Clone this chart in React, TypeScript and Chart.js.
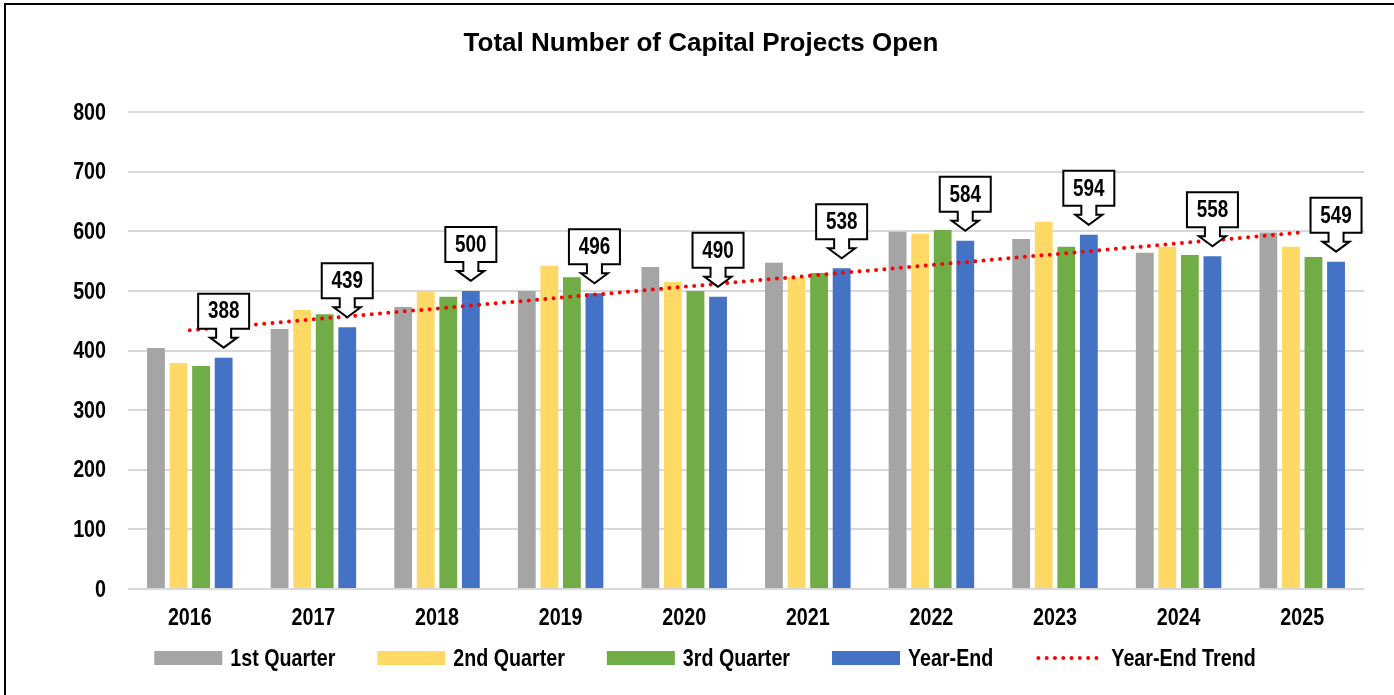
import React, { useEffect, useRef } from "react";
import { Chart, registerables } from "chart.js";

Chart.register(...registerables);

const years = ["2016", "2017", "2018", "2019", "2020", "2021", "2022", "2023", "2024", "2025"];
const firstQuarter = [404, 436, 473, 500, 540, 547, 599, 587, 564, 598];
const secondQuarter = [379, 468, 500, 542, 515, 523, 596, 616, 574, 574];
const thirdQuarter = [374, 461, 490, 523, 500, 530, 602, 574, 560, 557];
const yearEnd = [388, 439, 500, 496, 490, 538, 584, 594, 558, 549];
// Trend line end points (first and last year)
const yearEndTrend: (number | null)[] = [434, null, null, null, null, null, null, null, null, 598];
const seriesLabels = ["1st Quarter", "2nd Quarter", "3rd Quarter", "Year-End", "Year-End Trend"];
const seriesColors = ["#a5a5a5", "#ffd966", "#70ad47", "#4472c4", "#ff0000"];
const titleText = "Total Number of Capital Projects Open";
const yMin = 0;
const yMax = 800;
const yStep = 100;

const FONT = "'Liberation Sans', Arial, sans-serif";
const NARROW = 0.82;

function narrowText(
  ctx: CanvasRenderingContext2D,
  text: string,
  x: number,
  y: number,
  size: number,
  align: CanvasTextAlign,
  sx: number = NARROW
) {
  ctx.save();
  ctx.translate(x, y);
  ctx.scale(sx, 1);
  ctx.font = `bold ${size}px ${FONT}`;
  ctx.fillStyle = "#000";
  ctx.textAlign = align;
  ctx.textBaseline = "middle";
  ctx.fillText(text, 0, 0);
  ctx.restore();
}

function narrowWidth(ctx: CanvasRenderingContext2D, text: string, size: number, sx: number = NARROW) {
  ctx.save();
  ctx.font = `bold ${size}px ${FONT}`;
  const w = ctx.measureText(text).width * sx;
  ctx.restore();
  return w;
}

const textPlugin = {
  id: "textPlugin",
  afterDraw(chart: any) {
    const ctx = chart.ctx as CanvasRenderingContext2D;
    const area = chart.chartArea;
    // title
    narrowText(ctx, titleText, 701, 44, 26, "center", 1);
    // y ticks
    const ys = chart.scales.y;
    ys.ticks.forEach((t: any) => {
      narrowText(ctx, String(t.value), area.left - 22, ys.getPixelForValue(t.value) + 1, 24, "right");
    });
    // x ticks
    const xs = chart.scales.x;
    years.forEach((label, i) => {
      narrowText(ctx, label, xs.getPixelForValue(i), 618, 24, "center");
    });
    // legend
    const boxW = 68;
    const boxH = 14;
    const gap = 8;
    const spacing = 42;
    const ds = chart.data.datasets;
    const widths = ds.map((d: any) => boxW + gap + narrowWidth(ctx, d.label, 24));
    const total = widths.reduce((a: number, b: number) => a + b, 0) + spacing * (ds.length - 1);
    let x = 705 - total / 2;
    const y = 658;
    ds.forEach((d: any, i: number) => {
      ctx.save();
      if (d.type === "line") {
        ctx.strokeStyle = d.borderColor;
        ctx.lineWidth = 4;
        ctx.lineCap = "round";
        ctx.setLineDash([0, 8.3]);
        ctx.beginPath();
        ctx.moveTo(x + 3, y);
        ctx.lineTo(x + boxW, y);
        ctx.stroke();
      } else {
        ctx.fillStyle = d.backgroundColor;
        ctx.fillRect(x, y - boxH / 2, boxW, boxH);
      }
      ctx.restore();
      narrowText(ctx, d.label, x + boxW + gap, y + 1, 24, "left");
      x += widths[i] + spacing;
    });
  },
};

const calloutPlugin = {
  id: "callouts",
  afterDatasetsDraw(chart: any) {
    const ctx = chart.ctx as CanvasRenderingContext2D;
    const meta = chart.getDatasetMeta(3);
    ctx.save();
    meta.data.forEach((bar: any, i: number) => {
      const cx = bar.x;
      const tip = bar.y - 10;
      const bw = 25.5;
      const headH = 10;
      const shaftH = 9;
      const boxH = 35;
      const shaftHalf = 7.5;
      const headHalf = 13.5;
      const boxBottom = tip - headH - shaftH;
      const boxTop = boxBottom - boxH;
      ctx.beginPath();
      ctx.moveTo(cx, tip);
      ctx.lineTo(cx - headHalf, tip - headH);
      ctx.lineTo(cx - shaftHalf, tip - headH);
      ctx.lineTo(cx - shaftHalf, boxBottom);
      ctx.lineTo(cx - bw, boxBottom);
      ctx.lineTo(cx - bw, boxTop);
      ctx.lineTo(cx + bw, boxTop);
      ctx.lineTo(cx + bw, boxBottom);
      ctx.lineTo(cx + shaftHalf, boxBottom);
      ctx.lineTo(cx + shaftHalf, tip - headH);
      ctx.lineTo(cx + headHalf, tip - headH);
      ctx.closePath();
      ctx.fillStyle = "#ffffff";
      ctx.fill();
      ctx.lineWidth = 2;
      ctx.strokeStyle = "#000000";
      ctx.lineJoin = "miter";
      ctx.stroke();
      narrowText(ctx, String(yearEnd[i]), cx, (boxTop + boxBottom) / 2 + 1, 23, "center");
    });
    ctx.restore();
  },
};

export default function App() {
  const ref = useRef<HTMLCanvasElement | null>(null);

  useEffect(() => {
    if (!ref.current) return;
    const barBase = { categoryPercentage: 0.73, barPercentage: 0.79, borderWidth: 0 };
    const chart = new Chart(ref.current, {
      type: "bar",
      data: {
        labels: years,
        datasets: [
          { type: "bar", label: seriesLabels[0], data: firstQuarter, backgroundColor: seriesColors[0], ...barBase },
          { type: "bar", label: seriesLabels[1], data: secondQuarter, backgroundColor: seriesColors[1], ...barBase },
          { type: "bar", label: seriesLabels[2], data: thirdQuarter, backgroundColor: seriesColors[2], ...barBase },
          { type: "bar", label: seriesLabels[3], data: yearEnd, backgroundColor: seriesColors[3], ...barBase },
          {
            type: "line",
            label: seriesLabels[4],
            data: yearEndTrend,
            borderColor: seriesColors[4],
            backgroundColor: seriesColors[4],
            borderWidth: 4,
            borderDash: [0, 8.3],
            borderCapStyle: "round",
            pointRadius: 0,
            spanGaps: true,
            fill: false,
            order: -1,
          } as any,
        ],
      },
      options: {
        animation: false,
        responsive: false,
        maintainAspectRatio: false,
        events: [],
        layout: { padding: { left: 0, right: 30, top: 112, bottom: 0 } },
        plugins: {
          legend: { display: false },
          tooltip: { enabled: false },
          title: { display: false },
        },
        scales: {
          x: {
            grid: { display: false },
            border: { display: false },
            ticks: { display: false },
            afterFit: (scale: any) => {
              scale.height = 106;
            },
          },
          y: {
            min: yMin,
            max: yMax,
            grid: { color: "#d9d9d9", lineWidth: 2, drawTicks: false },
            border: { display: false },
            ticks: { stepSize: yStep, display: false },
            afterFit: (scale: any) => {
              scale.width = 128;
            },
          },
        },
      },
      plugins: [calloutPlugin, textPlugin],
    });
    return () => chart.destroy();
  }, []);

  return (
    <div style={{ position: "absolute", left: 0, top: 0, width: 1394, height: 695, overflow: "hidden", background: "#fff" }}>
      <div style={{ position: "absolute", left: 4, top: 3, width: 1400, height: 700, border: "2px solid #000", boxSizing: "border-box" }} />
      <canvas ref={ref} width={1394} height={695} style={{ position: "absolute", left: 0, top: 0, width: 1394, height: 695 }} />
    </div>
  );
}
